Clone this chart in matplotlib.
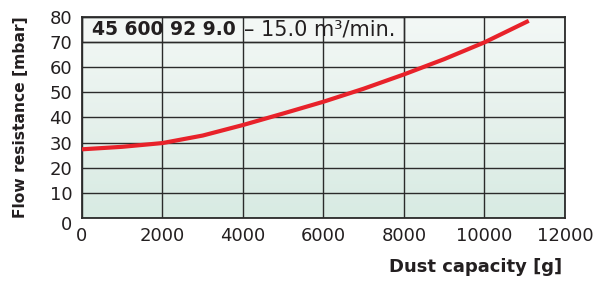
import numpy as np
import matplotlib.pyplot as plt
from matplotlib.patches import Rectangle
from matplotlib.colors import LinearSegmentedColormap
import matplotlib.transforms as mtransforms

plt.rcParams['font.family'] = ['DejaVu Sans']

# curve
dust_g = [0, 1000, 2000, 3000, 4000, 5000, 6000, 7000, 8000, 9000, 10000, 11100]
resistance_mbar = [27.3, 28.3, 29.8, 32.8, 37.0, 41.6, 46.3, 51.5, 57.2, 63.3, 70.0, 78.6]

x_ticks = [0, 2000, 4000, 6000, 8000, 10000, 12000]
y_ticks = [0, 10, 20, 30, 40, 50, 60, 70, 80]

fig = plt.figure(figsize=(6.11, 2.82), dpi=100)
ax = fig.add_axes([0.1342, 0.228, 0.7905, 0.7107])

# soft green background gradient
cmap = LinearSegmentedColormap.from_list('bg', ['#d8ebe3', '#e6f1ec', '#f3f8f6'])
grad = np.linspace(0, 1, 100).reshape(-1, 1) * np.ones((1, 50))
ax.imshow(grad, extent=[0, 12000, 0, 80], origin='lower', aspect='auto',
          cmap=cmap, zorder=0)

ax.set_xlim(0, 12000)
ax.set_ylim(0, 80)
ax.set_xticks(x_ticks)
ax.set_yticks(y_ticks)
ax.tick_params(length=0, labelsize=13, pad=7, colors='#231f20')

ax.grid(True, color='#2b2b2b', linewidth=1.0, zorder=1)
ax.set_axisbelow(False)
for s in ax.spines.values():
    s.set_color('#2b2b2b')
    s.set_linewidth(1.3)

# label box in the top row
ax.add_patch(Rectangle((0, 70), 8000, 10, facecolor='#f3f7f5', edgecolor='#2b2b2b',
                       linewidth=1.0, zorder=2))
t_bold = ax.text(250, 75, '45 600 92 9.0', fontsize=13.5, fontweight='bold',
                 va='center', color='#231f20', zorder=3)
ax.annotate('\u2013 15.0 m\u00b3/min.', xy=(1, 0.5), xycoords=t_bold,
            xytext=(6, 0), textcoords='offset points', fontsize=15,
            va='center', color='#231f20', zorder=3)

ax.plot(dust_g, resistance_mbar, color='#e8222a', linewidth=3, zorder=4,
        solid_capstyle='butt')

ax.set_ylabel('Flow resistance [mbar]', fontsize=11.2, fontweight='bold',
              color='#231f20')
ax.yaxis.set_label_coords(-0.111, 0.5)
ax.set_xlabel('Dust capacity [g]', fontsize=13, fontweight='bold',
              color='#231f20')
ax.xaxis.set_label_coords(0.815, -0.2)

# the y "0" sits a bit lower in the reference
ylab0 = ax.get_yticklabels()[0]
ylab0.set_transform(ylab0.get_transform() +
                    mtransforms.ScaledTranslation(0, -4 / 72, fig.dpi_scale_trans))

fig.savefig('out.png', dpi=100)
